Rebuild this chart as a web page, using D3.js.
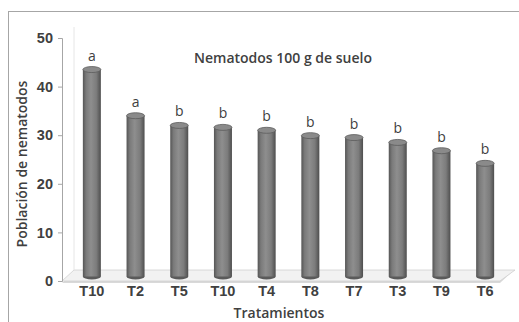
<!DOCTYPE html>
<html>
<head>
<meta charset="utf-8">
<script src="https://cdn.jsdelivr.net/npm/d3@7/dist/d3.min.js"></script>
<style>
  html, body { margin: 0; padding: 0; background: #fff; }
  svg { display: block; font-family: "Open Sans", "Noto Sans", sans-serif; }
</style>
</head>
<body>
<svg id="chart" width="519" height="322"></svg>
<script>
// Nematode counts per 100 g of soil, by treatment
const treatments = ["T10", "T2", "T5", "T10", "T4", "T8", "T7", "T3", "T9", "T6"];
const population = [43.2, 33.7, 31.7, 31.3, 30.7, 29.6, 29.2, 28.2, 26.5, 23.9];
const groups = ["a", "a", "b", "b", "b", "b", "b", "b", "b", "b"];
const yTicks = [0, 10, 20, 30, 40, 50];

const svg = d3.select("#chart");
const textColor = "#404040";

// Outer frame
svg.append("rect")
  .attr("x", 8.5).attr("y", 11.5)
  .attr("width", 520).attr("height", 320)
  .attr("fill", "#fff")
  .attr("stroke", "#a6a6a6").attr("stroke-width", 1);

const y = d3.scaleLinear().domain([0, 50]).range([281, 38]);
const x = d3.scaleBand().domain(d3.range(treatments.length)).range([70, 507]);

// Depth offset of the 3D floor
const depthX = 12, depthY = -11;
const barW = 18, ry = 3;

// Floor slab
const y0 = y(0);
const floor = svg.append("g");
floor.append("polygon")
  .attr("points", [[62, y0 + 2], [500, y0 + 2], [500 + depthX, y0 + 2 + depthY], [62 + depthX, y0 + 2 + depthY]].map(p => p.join(",")).join(" "))
  .attr("fill", "#d9d9d9");
floor.append("polygon")
  .attr("points", [[62, y0], [500, y0], [500 + depthX + 3, y0 + depthY], [62 + depthX, y0 + depthY]].map(p => p.join(",")).join(" "))
  .attr("fill", "#f2f2f2")
  .attr("stroke", "#d0d0d0").attr("stroke-width", 0.8);

// Back-wall vertical edge
svg.append("line")
  .attr("x1", 62 + depthX).attr("x2", 62 + depthX)
  .attr("y1", y(50) + depthY).attr("y2", y0 + depthY)
  .attr("stroke", "#e6e6e6");

// Y axis
const yAxis = d3.axisLeft(y).tickValues(yTicks).tickSize(4).tickPadding(5);
const gy = svg.append("g").attr("transform", "translate(62,0)").call(yAxis);
gy.select(".domain").attr("stroke", "#a6a6a6");
gy.selectAll(".tick line").attr("stroke", "#a6a6a6");
gy.selectAll(".tick text")
  .attr("fill", textColor).attr("font-size", 14.5).attr("font-weight", 700);

// X axis labels
const xAxis = d3.axisBottom(x).tickFormat(i => treatments[i]).tickSize(0).tickPadding(0);
const gx = svg.append("g").attr("transform", `translate(0,${y0 + 5})`).call(xAxis);
gx.select(".domain").remove();
gx.selectAll(".tick text")
  .attr("fill", textColor).attr("font-size", 14.5).attr("font-weight", 600);

// Cylinder shading
const defs = svg.append("defs");
const grad = defs.append("linearGradient").attr("id", "cyl").attr("x1", "0%").attr("x2", "100%");
[[0, "#555"], [0.18, "#7a7a7a"], [0.45, "#8e8e8e"], [0.75, "#7c7c7c"], [1, "#4e4e4e"]]
  .forEach(([o, c]) => grad.append("stop").attr("offset", o).attr("stop-color", c));

// Bars drawn as cylinders standing mid-depth on the floor
const midY = depthY / 2 + 1;
const bars = svg.append("g").selectAll("g").data(population).join("g")
  .attr("transform", (d, i) => `translate(${x(i) + x.bandwidth() / 2},0)`);

bars.append("ellipse")
  .attr("cx", 0).attr("cy", y0 + midY)
  .attr("rx", barW / 2).attr("ry", ry)
  .attr("fill", "#5a5a5a");
bars.append("rect")
  .attr("x", -barW / 2).attr("width", barW)
  .attr("y", d => y(d) + midY + ry)
  .attr("height", d => y0 - y(d) - ry)
  .attr("fill", "url(#cyl)");
bars.append("ellipse")
  .attr("cx", 0).attr("cy", d => y(d) + midY + ry)
  .attr("rx", barW / 2).attr("ry", ry)
  .attr("fill", "#8a8a8a")
  .attr("stroke", "#5c5c5c").attr("stroke-width", 0.8);

// Significance letters
bars.append("text")
  .attr("x", 0).attr("y", d => y(d) + midY - 6)
  .attr("text-anchor", "middle")
  .attr("fill", textColor).attr("font-size", 14).attr("font-weight", 500)
  .text((d, i) => groups[i]);

// Title inside the plot
svg.append("text")
  .attr("x", 283).attr("y", 63)
  .attr("text-anchor", "middle")
  .attr("fill", textColor).attr("font-size", 14).attr("font-weight", 600)
  .text("Nematodos 100 g de suelo");

// Axis titles
svg.append("text")
  .attr("transform", "translate(27,164) rotate(-90)")
  .attr("text-anchor", "middle")
  .attr("fill", textColor).attr("font-size", 14).attr("font-weight", 600)
  .text("Población de nematodos");

svg.append("text")
  .attr("x", 279).attr("y", 318)
  .attr("text-anchor", "middle")
  .attr("fill", textColor).attr("font-size", 14).attr("font-weight", 600)
  .text("Tratamientos");
</script>
</body>
</html>
